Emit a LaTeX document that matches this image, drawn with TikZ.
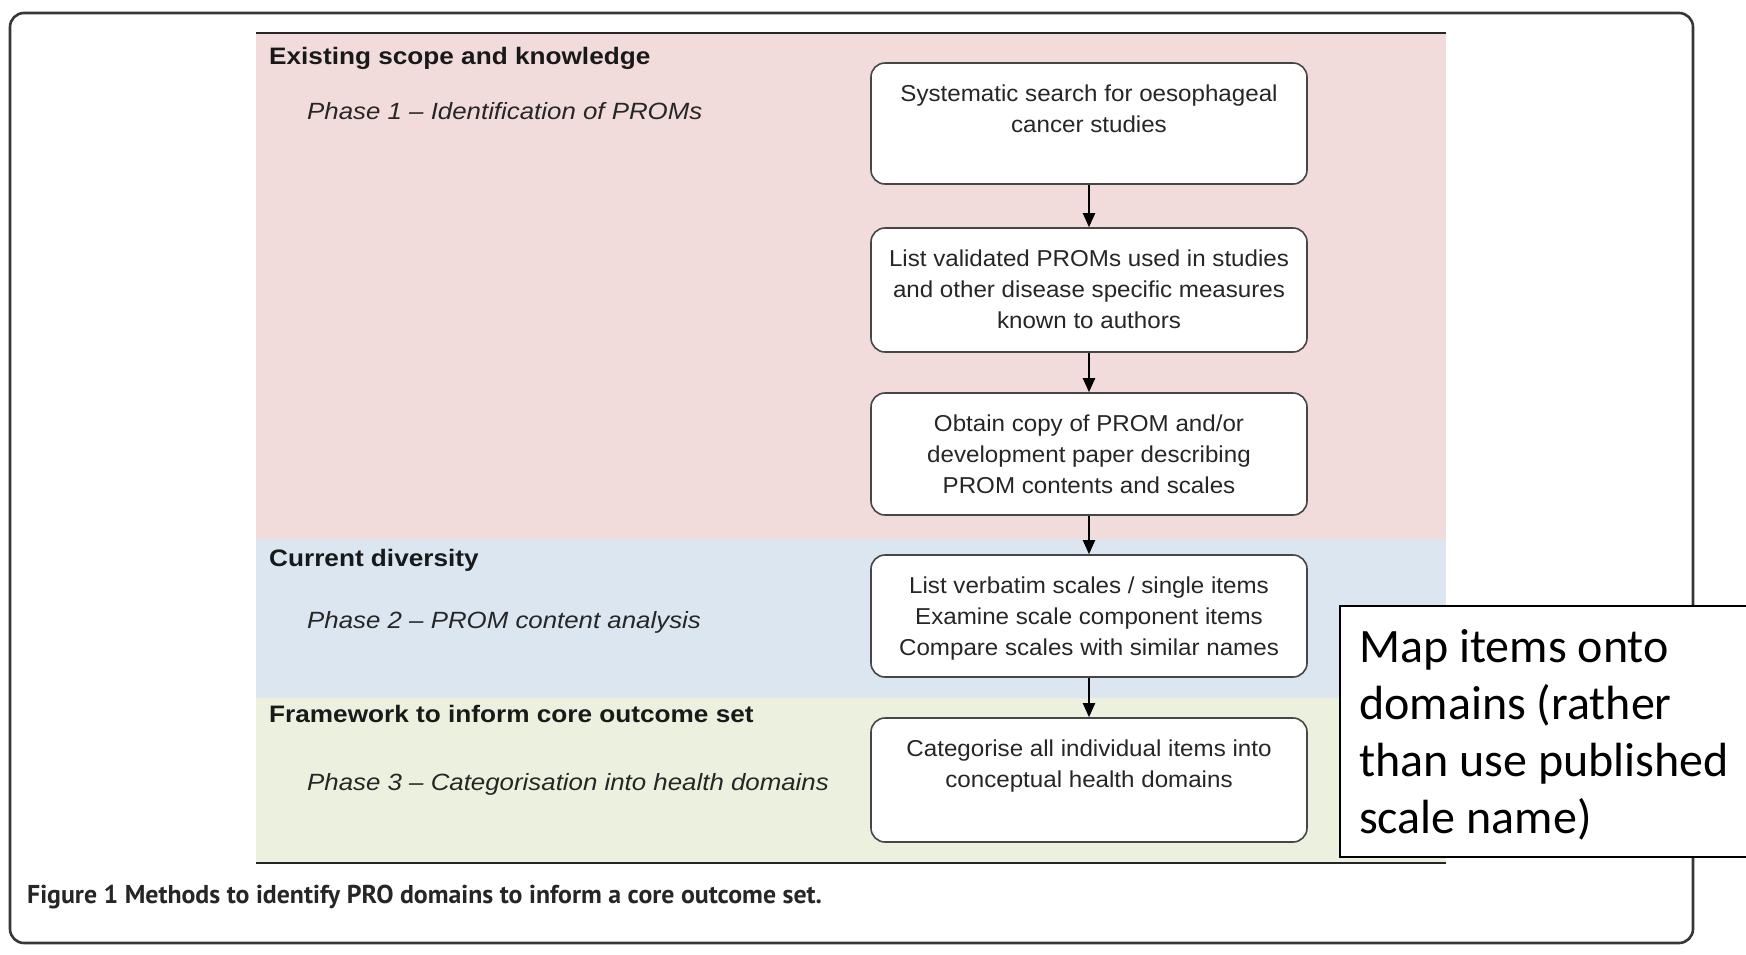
\documentclass[tikz,border=0pt]{standalone}
\usepackage{fontspec}
\setmainfont{Liberation Sans}[FakeStretch=1.05]
\newfontfamily\labelfont{Liberation Sans}[FakeStretch=1.1]
\newfontfamily\calloutfont{Carlito}
\newfontfamily\captionfont{PT Sans}
\usetikzlibrary{arrows.meta}

\definecolor{phaseA}{RGB}{242,220,219}
\definecolor{phaseB}{RGB}{220,230,241}
\definecolor{phaseC}{RGB}{235,241,222}
\definecolor{framegray}{RGB}{55,55,55}
\definecolor{boxgray}{RGB}{70,70,70}

\tikzset{
  stepbox/.style={draw=boxgray, line width=1.6pt, fill=white, rounded corners=14pt,
    minimum width=436pt, inner sep=0pt},
  boxtext/.style={font=\fontsize{23}{31}\selectfont, align=center, inner sep=0pt,
    text=black!85, anchor=north},
  header/.style={font=\labelfont\bfseries\fontsize{23.8}{28}\selectfont, inner sep=0pt,
    anchor=base west, text=black!90},
  phase/.style={font=\labelfont\itshape\fontsize{23.5}{28}\selectfont, inner sep=0pt,
    anchor=base west, text=black!85},
  flow/.style={line width=2pt, -{Triangle[length=14pt,width=12pt]}},
}

\begin{document}
\begin{tikzpicture}[x=1pt,y=-1pt]
  \useasboundingbox (0,0) rectangle (1746,954);
  \fill[white] (0,0) rectangle (1746,954);

  % outer figure frame
  \draw[line width=2.6pt, framegray, rounded corners=14pt] (10,13) rectangle (1693,943);

  % coloured bands for the three stages
  \fill[phaseA] (256,33) rectangle (1446,539);
  \fill[phaseB] (256,539) rectangle (1446,698);
  \fill[phaseC] (256,698) rectangle (1446,863);
  \draw[line width=2.5pt, black!85] (256,33) -- (1446,33);
  \draw[line width=2.5pt, black!85] (256,863) -- (1446,863);

  % stage headings and phase names
  \node[header] (h1) at (269,64) {Existing scope and knowledge};
  \node[phase]  (p1) at (307,119) {Phase 1 \textendash{} Identification of PROMs};
  \node[header] (h2) at (269,566) {Current diversity};
  \node[phase]  (p2) at (307,628) {Phase 2 \textendash{} PROM content analysis};
  \node[header] (h3) at (269,722) {Framework to inform core outcome set};
  \node[phase]  (p3) at (307,790) {Phase 3 \textendash{} Categorisation into health domains};

  % process boxes
  \node[stepbox, minimum height=121pt] (b1) at (1089,123.5) {};
  \node[stepbox, minimum height=124pt] (b2) at (1089,290) {};
  \node[stepbox, minimum height=122pt] (b3) at (1089,454) {};
  \node[stepbox, minimum height=122pt] (b4) at (1089,616) {};
  \node[stepbox, minimum height=124pt] (b5) at (1089,780) {};

  \node[boxtext] (t1) at ([yshift=-22pt]b1.north) {Systematic search for oesophageal\\cancer studies};
  \node[boxtext] (t2) at ([yshift=-22pt]b2.north) {List validated PROMs used in studies\\and other disease specific measures\\known to authors};
  \node[boxtext] (t3) at ([yshift=-22pt]b3.north) {Obtain copy of PROM and/or\\development paper describing\\PROM contents and scales};
  \node[boxtext] (t4) at ([yshift=-22pt]b4.north) {List verbatim scales / single items\\Examine scale component items\\Compare scales with similar names};
  \node[boxtext] (t5) at ([yshift=-22pt]b5.north) {Categorise all individual items into\\conceptual health domains};

  \draw[flow] (b1) -- (b2);
  \draw[flow] (b2) -- (b3);
  \draw[flow] (b3) -- (b4);
  \draw[flow] (b4) -- (b5);

  % caption
  \node[font=\captionfont\bfseries\fontsize{25.8}{30}\selectfont, inner sep=0pt, anchor=base west,
    text=black!85] (cap) at (27,903) {Figure 1 Methods to identify PRO domains to inform a core outcome set.};

  % annotation box
  \node[draw=black, line width=1.6pt, fill=white, minimum width=440pt, minimum height=251pt,
    anchor=north west, inner sep=0pt] (note) at (1339,605) {};
  \node[font=\calloutfont\fontsize{48}{57}\selectfont, align=left, inner sep=0pt,
    anchor=north west] (notetext) at ([xshift=20pt,yshift=-24pt]note.north west)
    {Map items onto\\domains (rather\\than use published\\scale name)};
\end{tikzpicture}
\end{document}
